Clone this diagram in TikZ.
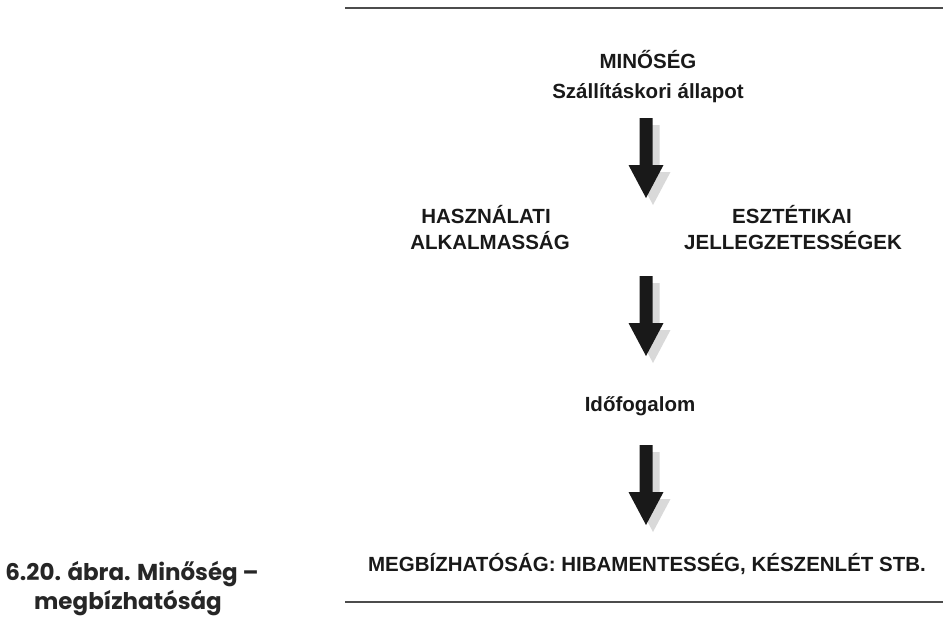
\documentclass[tikz,border=0pt]{standalone}
\usepackage{fontspec}
\setmainfont{Liberation Sans}
\newfontfamily\capfont{Poppins}
\begin{document}
\begin{tikzpicture}[x=1pt,y=-1pt,
  lbl/.style={font=\fontsize{20.5}{25}\selectfont\bfseries, align=center, inner sep=0pt, text=black!90, anchor=base},
  captext/.style={font=\capfont\fontsize{23}{30}\selectfont\bfseries, align=center, inner sep=0pt, text=black!85, anchor=base},
  rulerline/.style={draw=black!70, line width=1.3pt},
  pics/bigarrow/.style={code={
    % gray drop shadow, then the black arrow
    \fill[black!15] (0.5,7) -- (13.5,7) -- (13.5,54) -- (24.5,54) -- (7,87) -- (-10.5,54) -- (0.5,54) -- cycle;
    \fill[black!90] (-6.5,0) -- (6.5,0) -- (6.5,47) -- (17.5,47) -- (0,80) -- (-17.5,47) -- (-6.5,47) -- cycle;
  }}]
\useasboundingbox (0,0) rectangle (945,618);

% horizontal rules
\coordinate (t1) at (345,8);
\coordinate (t2) at (943,8);
\coordinate (b1) at (345,602);
\coordinate (b2) at (943,602);
\draw[rulerline] (t1) -- (t2);
\draw[rulerline] (b1) -- (b2);

% labels
\node[lbl] (min) at (648,69) {MINŐSÉG};
\node[lbl] (szall) at (648,99) {Szállításkori állapot};
\node[lbl] (hasz) at (486,223) {HASZNÁLATI};
\node[lbl] (alk) at (490,249) {ALKALMASSÁG};
\node[lbl] (eszt) at (792,223) {ESZTÉTIKAI};
\node[lbl] (jell) at (793,249) {JELLEGZETESSÉGEK};
\node[lbl] (ido) at (640,411) {Időfogalom};
\node[lbl] (megb) at (647,571) {MEGBÍZHATÓSÁG: HIBAMENTESSÉG, KÉSZENLÉT STB.};

% block arrows
\pic (a1) at (646,118) {bigarrow};
\pic (a2) at (646,276) {bigarrow};
\pic (a3) at (646,445) {bigarrow};

% figure caption
\node[captext] (cap1) at (132,580) {6.20. ábra. Minőség –};
\node[captext] (cap2) at (128,609) {megbízhatóság};
\end{tikzpicture}
\end{document}
